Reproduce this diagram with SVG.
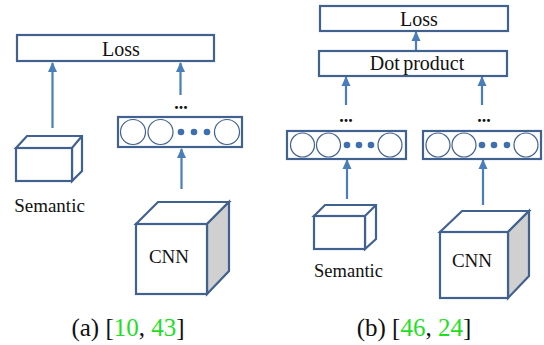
<svg xmlns="http://www.w3.org/2000/svg" width="544" height="345" viewBox="0 0 544 345">
<style>
.box{fill:#fff;stroke:#41618f;stroke-width:2.2}
.cube{fill:#fff;stroke:#41618f;stroke-width:2.2;stroke-linejoin:miter}
.side{fill:#d0d0d0;stroke:#41618f;stroke-width:2.2}
.c{fill:#fff;stroke:#41618f;stroke-width:1.2}
.d{fill:#3f6fae}
.arr{stroke:#4a7ebb;stroke-width:2.2;fill:none;marker-end:url(#ah)}
text{font-family:'Liberation Serif','DejaVu Serif',serif}
.t{fill:#111;text-anchor:middle}
.dots{font-weight:bold;fill:#111;text-anchor:middle;font-size:18px}
.g{fill:#1ee01e}
</style>
<defs>
<marker id="ah" markerUnits="userSpaceOnUse" markerWidth="10" markerHeight="10" viewBox="0 0 10 10" refX="9" refY="5" orient="auto">
<path d="M0,0.5 L10,5 L0,9.5 Z" fill="#4a7ebb"/>
</marker>
</defs>
<g id="connectors">
<line class="arr" x1="52.5" y1="128" x2="52.5" y2="63"/>
<line class="arr" x1="180.5" y1="95" x2="180.5" y2="63"/>
<line class="arr" x1="181.5" y1="189" x2="181.5" y2="149"/>
<line class="arr" x1="416" y1="50" x2="416" y2="32"/>
<line class="arr" x1="346" y1="105" x2="346" y2="77"/>
<line class="arr" x1="482" y1="105" x2="482" y2="77"/>
<line class="arr" x1="347" y1="199" x2="347" y2="160"/>
<line class="arr" x1="483" y1="205" x2="483" y2="160"/>
</g>
<g id="loss-a">
<rect class="box" x="17" y="35" width="197" height="26"/>
<text class="t" x="121" y="56" font-size="20">Loss</text>
</g>
<g id="dots-a"><text class="dots" x="181" y="109">...</text></g>
<g id="vec-a">
<rect class="box" x="118" y="117" width="124" height="30"/>
<circle class="c" cx="133" cy="132" r="12.5"/>
<circle class="c" cx="160.5" cy="132" r="12.5"/>
<circle class="d" cx="181" cy="132" r="3.3"/>
<circle class="d" cx="194" cy="132" r="3.3"/>
<circle class="d" cx="207" cy="132" r="3.3"/>
<circle class="c" cx="227" cy="132" r="12.5"/>
</g>
<g id="sem-a">
<path class="cube" d="M16,148 L27,136 L82,136 L82,171 L72,181 L72,148 Z M16,148 L72,148 L82,136"/>
<rect class="cube" x="16" y="148" width="56" height="33"/>
<text class="t" x="49.5" y="212" font-size="19">Semantic</text>
</g>
<g id="cnn-a">
<path class="cube" d="M136,224 L158,202 L229,202 L207,224 Z"/>
<path class="side" d="M207,224 L229,202 L229,271 L207,294 Z"/>
<rect class="cube" x="136" y="224" width="71" height="70"/>
<text class="t" x="169" y="263" font-size="19">CNN</text>
</g>
<g id="cap-a">
<text class="t" x="128" y="336" font-size="25">(a) [<tspan class="g">10</tspan>, <tspan class="g">43</tspan>]</text>
</g>
<g id="loss-b">
<rect class="box" x="320" y="6" width="188" height="25"/>
<text class="t" x="419" y="25.5" font-size="20">Loss</text>
</g>
<g id="dot-b">
<rect class="box" x="319" y="51" width="188" height="25"/>
<text class="t" x="417" y="70" font-size="20" word-spacing="-1.5">Dot product</text>
</g>
<g id="dots-b1"><text class="dots" x="346" y="122">...</text></g>
<g id="dots-b2"><text class="dots" x="484" y="122">...</text></g>
<g id="vec-b1">
<rect class="box" x="287" y="131" width="119" height="28"/>
<circle class="c" cx="302.5" cy="145" r="12"/>
<circle class="c" cx="328.5" cy="145" r="12"/>
<circle class="d" cx="347" cy="145" r="3.3"/>
<circle class="d" cx="359" cy="145" r="3.3"/>
<circle class="d" cx="371" cy="145" r="3.3"/>
<circle class="c" cx="390" cy="145" r="12"/>
</g>
<g id="vec-b2">
<rect class="box" x="423" y="131" width="118" height="28"/>
<circle class="c" cx="438" cy="145" r="12"/>
<circle class="c" cx="464" cy="145" r="12"/>
<circle class="d" cx="482" cy="145" r="3.3"/>
<circle class="d" cx="494" cy="145" r="3.3"/>
<circle class="d" cx="507" cy="145" r="3.3"/>
<circle class="c" cx="526" cy="145" r="12"/>
</g>
<g id="sem-b">
<path class="cube" d="M314,216 L325,205 L376,205 L376,239 L365,249 L365,216 Z M314,216 L365,216 L376,205"/>
<rect class="cube" x="314" y="216" width="51" height="33"/>
<text class="t" x="348.5" y="277" font-size="18.5">Semantic</text>
</g>
<g id="cnn-b">
<path class="cube" d="M440,232 L462,211 L529,211 L508,232 Z"/>
<path class="side" d="M508,232 L529,211 L529,276 L508,298 Z"/>
<rect class="cube" x="440" y="232" width="68" height="66"/>
<text class="t" x="472" y="267" font-size="19">CNN</text>
</g>
<g id="cap-b">
<text class="t" x="414" y="336" font-size="25">(b) [<tspan class="g">46</tspan>, <tspan class="g">24</tspan>]</text>
</g>
</svg>
